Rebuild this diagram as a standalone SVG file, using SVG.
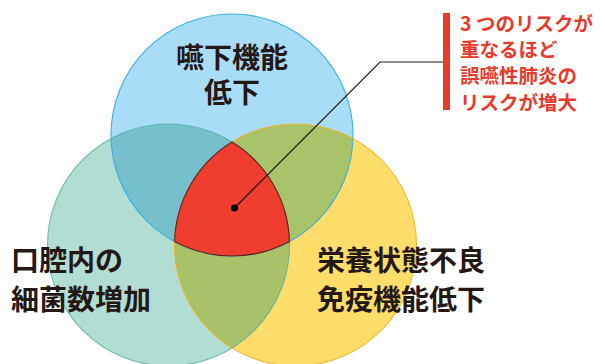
<svg xmlns="http://www.w3.org/2000/svg" width="605" height="364" viewBox="0 0 605 364">
<style>
.lbl{font-family:"Noto Sans CJK JP","Noto Sans CJK SC",sans-serif;font-weight:700;font-size:28px;fill:#231815}
.red{font-family:"Noto Sans CJK JP","Noto Sans CJK SC",sans-serif;font-weight:700;font-size:19.5px;fill:#e8392d}
.edge{fill:none;stroke-width:1.1}
</style>
<rect width="605" height="364" fill="#ffffff"/>
<g id="circle-swallow"><circle cx="232" cy="135" r="121" fill="#a9ddf7"/></g>
<g id="circle-oral"><circle cx="168.5" cy="245" r="121" fill="#b1ddd3"/></g>
<g id="circle-nutrition"><circle cx="295.5" cy="245" r="121" fill="#fedd6b"/></g>
<g id="overlaps">
<path d="M111.05,138.5 A121,121 0 0 1 232,142 A121,121 0 0 0 174.55,241.5 A121,121 0 0 1 111.05,138.5 Z" fill="#75c0cc"/>
<path d="M232,142 A121,121 0 0 1 352.95,138.5 A121,121 0 0 1 289.45,241.5 A121,121 0 0 0 232,142 Z" fill="#a9c36a"/>
<path d="M174.55,241.5 A121,121 0 0 0 289.45,241.5 A121,121 0 0 1 232,348 A121,121 0 0 1 174.55,241.5 Z" fill="#a9c169"/>
</g>
<g id="outlines">
<circle class="edge" cx="232" cy="135" r="121" stroke="#3aaee3"/>
<circle class="edge" cx="168.5" cy="245" r="121" stroke="#4fae9e" stroke-opacity="0.8"/>
<circle class="edge" cx="295.5" cy="245" r="121" stroke="#f2b01c" stroke-opacity="0.85"/>
</g>
<g id="center-overlap">
<path d="M232,142 A121,121 0 0 1 289.45,241.5 A121,121 0 0 1 174.55,241.5 A121,121 0 0 1 232,142 Z" fill="#ef3e2f" stroke="#5a2420" stroke-width="1.1"/>
</g>
<g id="label-swallow">
<text class="lbl" x="232" y="68" text-anchor="middle">嚥下機能</text>
<text class="lbl" x="232" y="103" text-anchor="middle">低下</text>
</g>
<g id="label-oral">
<text class="lbl" x="11" y="271">口腔内の</text>
<text class="lbl" x="11" y="310">細菌数増加</text>
</g>
<g id="label-nutrition">
<text class="lbl" x="317" y="271">栄養状態不良</text>
<text class="lbl" x="317" y="310">免疫機能低下</text>
</g>
<g id="connectors">
<polyline points="443,62 380,62 234.5,208" fill="none" stroke="#231815" stroke-width="1.2"/>
<circle cx="234.5" cy="208" r="3.6" fill="#000000"/>
</g>
<g id="callout">
<rect x="443" y="13" width="7" height="97" fill="#ea3a2e"/>
<text class="red" x="460" y="31">3 つのリスクが</text>
<text class="red" x="460" y="56.5">重なるほど</text>
<text class="red" x="460" y="83">誤嚥性肺炎の</text>
<text class="red" x="460" y="109.5">リスクが増大</text>
</g>
</svg>
